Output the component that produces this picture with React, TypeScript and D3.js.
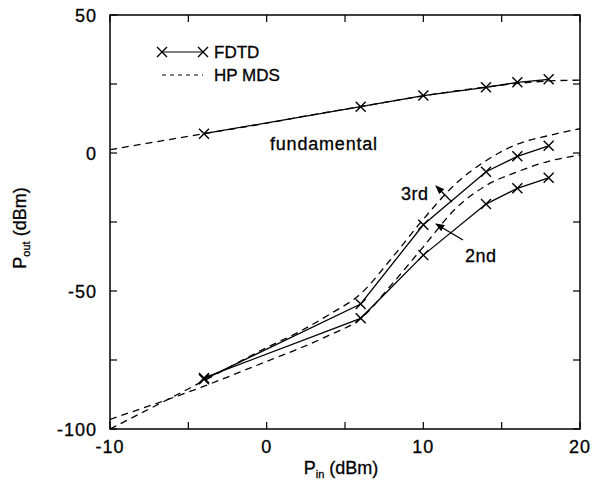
import React from "react";
import * as d3 from "d3";

const pinFdtd = [-4, 6, 10, 14, 16, 18];
const fundFdtd = [7, 16.8, 20.8, 23.8, 25.6, 26.7];
const thirdFdtd = [-82, -54.7, -26, -6.8, -1.2, 2.6];
const secondFdtd = [-81.5, -59.9, -37, -18.5, -12.8, -9];

const pinMds = [-10, -4, 0, 2, 4, 6, 8, 10, 12, 14, 16, 18, 20];
const fundMds = [1.2, 7, 10.8, 12.9, 14.9, 16.8, 18.8, 20.7, 22.4, 23.9, 25.2, 26.1, 26.4];
const thirdMds = [-100, -82.5, -70.5, -65, -58.5, -51, -38, -24, -11.5, -2.8, 3.2, 6.3, 8.8];
const secondMds = [-96.5, -84.5, -75.5, -71, -66, -60, -47.5, -34, -20.5, -11.8, -6.8, -3, -0.8];

const xTicks = [-10, -5, 0, 5, 10, 15, 20];
const xLabels = [-10, 0, 10, 20];
const yTicks = [50, 25, 0, -25, -50, -75, -100];
const yLabels = [50, 0, -50, -100];

export default function App() {
  const W = 592, H = 487;
  const x0 = 110, x1 = 580, y0 = 15, y1 = 429;
  const x = d3.scaleLinear().domain([-10, 20]).range([x0, x1]);
  const y = d3.scaleLinear().domain([-100, 50]).range([y1, y0]);
  const line = d3.line<[number, number]>().x((d) => x(d[0])).y((d) => y(d[1]));
  const mdsLine = d3
    .line<[number, number]>()
    .x((d) => x(d[0]))
    .y((d) => y(d[1]))
    .curve(d3.curveMonotoneX);
  const zip = (a: number[], b: number[]) => a.map((v, i) => [v, b[i]] as [number, number]);
  const font = "'Liberation Sans', Arial, sans-serif";
  const tl = 7;
  const txt = { stroke: "#000", strokeWidth: 0.3 };
  const cross = (cx: number, cy: number, k: string) => {
    const s = 5;
    return (
      <path
        key={k}
        d={`M${cx - s},${cy - s}L${cx + s},${cy + s}M${cx - s},${cy + s}L${cx + s},${cy - s}`}
        stroke="#000"
        strokeWidth={1.4}
        fill="none"
      />
    );
  };
  const fdtd = [fundFdtd, thirdFdtd, secondFdtd];
  const mds = [fundMds, thirdMds, secondMds];
  return (
    <svg
      width={W}
      height={H}
      style={{ position: "absolute", left: 0, top: 0, background: "#fff" }}
      fontFamily={font}
    >
      <rect x={0} y={0} width={W} height={H} fill="#fff" />
      <defs>
        <clipPath id="clip">
          <rect x={x0} y={y0} width={x1 - x0} height={y1 - y0} />
        </clipPath>
        <marker id="arr" viewBox="0 0 10 10" refX="9" refY="5" markerWidth="7" markerHeight="7" orient="auto">
          <path d="M0,1L10,5L0,9z" fill="#000" />
        </marker>
      </defs>
      {xTicks.map((t) => (
        <g key={"xt" + t}>
          <line x1={x(t)} x2={x(t)} y1={y1} y2={y1 - tl} stroke="#000" strokeWidth={1.2} />
          <line x1={x(t)} x2={x(t)} y1={y0} y2={y0 + tl} stroke="#000" strokeWidth={1.2} />
        </g>
      ))}
      {yTicks.map((t) => (
        <g key={"yt" + t}>
          <line x1={x0} x2={x0 + tl} y1={y(t)} y2={y(t)} stroke="#000" strokeWidth={1.2} />
          <line x1={x1} x2={x1 - tl} y1={y(t)} y2={y(t)} stroke="#000" strokeWidth={1.2} />
        </g>
      ))}
      <rect x={x0} y={y0} width={x1 - x0} height={y1 - y0} fill="none" stroke="#000" strokeWidth={1.5} />
      {xLabels.map((t) => (
        <text key={"xl" + t} x={x(t)} y={453} textAnchor="middle" fontSize={18} letterSpacing={1} {...txt}>
          {t}
        </text>
      ))}
      {yLabels.map((t) => (
        <text key={"yl" + t} x={97} y={y(t) + 6.5} textAnchor="end" fontSize={18} letterSpacing={1} {...txt}>
          {t}
        </text>
      ))}
      <text x={341} y={474} textAnchor="middle" fontSize={18} {...txt}>
        P<tspan fontSize={11} dy={4}>in</tspan>
        <tspan dy={-4}> (dBm)</tspan>
      </text>
      <text transform="translate(26,228) rotate(-90)" textAnchor="middle" fontSize={18} {...txt}>
        P<tspan fontSize={11} dy={4}>out</tspan>
        <tspan dy={-4}> (dBm)</tspan>
      </text>
      <g clipPath="url(#clip)">
        {mds.map((s, i) => (
          <path
            key={"m" + i}
            d={mdsLine(zip(pinMds, s)) || ""}
            fill="none"
            stroke="#000"
            strokeWidth={1.3}
            strokeDasharray="7,5"
          />
        ))}
        {fdtd.map((s, i) => (
          <g key={"f" + i}>
            <path d={line(zip(pinFdtd, s)) || ""} fill="none" stroke="#000" strokeWidth={1.3} />
            {pinFdtd.map((p, j) => cross(x(p), y(s[j]), `c${i}-${j}`))}
          </g>
        ))}
      </g>
      <line x1={162} x2={203} y1={52} y2={52} stroke="#000" strokeWidth={1.2} />
      {cross(162, 52, "lc1")}
      {cross(203, 52, "lc2")}
      <text x={214} y={58} fontSize={17} {...txt}>FDTD</text>
      <line x1={162} x2={203} y1={75} y2={75} stroke="#000" strokeWidth={1} strokeDasharray="4,4" />
      <text x={214} y={81} fontSize={17} {...txt}>HP MDS</text>
      <text x={270} y={150} fontSize={18} letterSpacing={0.8} {...txt}>fundamental</text>
      <text x={401} y={200} fontSize={18} letterSpacing={0.5} {...txt}>3rd</text>
      <line x1={452} y1={202} x2={436} y2={186} stroke="#000" strokeWidth={1.3} markerEnd="url(#arr)" />
      <text x={465} y={262} fontSize={18} letterSpacing={0.5} {...txt}>2nd</text>
      <line x1={463} y1={240} x2={436} y2={224} stroke="#000" strokeWidth={1.3} markerEnd="url(#arr)" />
    </svg>
  );
}
